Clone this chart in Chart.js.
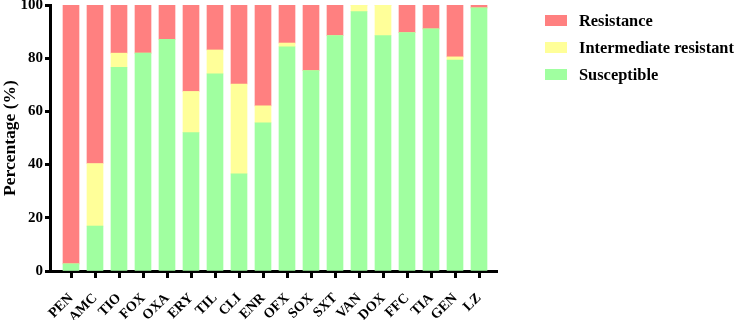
<!DOCTYPE html>
<html>
<head>
<meta charset="utf-8">
<script src="https://cdn.jsdelivr.net/npm/chart.js@4"></script>
<style>
  html, body { margin: 0; padding: 0; background: #fff; }
  #wrap { position: relative; width: 735px; height: 320px; }
  #legend { position: absolute; left: 545px; top: 7px; font-family: "Liberation Serif", "Times New Roman", serif; font-weight: bold; font-size: 16.4px; color: #000; }
  #legend div { height: 27px; display: flex; align-items: center; white-space: nowrap; }
  #legend span { display: inline-block; width: 22px; height: 11px; margin-right: 12px; }
</style>
</head>
<body>
<div id="wrap">
  <canvas id="chart" width="735" height="320"></canvas>
  <div id="legend"></div>
</div>
<script>
// antibiotic panel, percentage of isolates per category
const drugs = ["PEN", "AMC", "TIO", "FOX", "OXA", "ERY", "TIL", "CLI", "ENR",
  "OFX", "SOX", "SXT", "VAN", "DOX", "FFC", "TIA", "GEN", "LZ"];
const susceptible = [2.7, 16.9, 76.6, 81.9, 87.1, 52.0, 74.1, 36.5, 55.7,
  84.3, 75.3, 88.5, 97.5, 88.5, 89.6, 91.0, 79.3, 98.9];
const intermediate = [0, 23.5, 5.3, 0, 0, 15.5, 9.0, 33.8, 6.4,
  1.4, 0, 0, 2.5, 11.5, 0, 0, 1.2, 0];
const resistance = [97.3, 59.6, 18.1, 18.1, 12.9, 32.5, 16.9, 29.7, 37.9,
  14.3, 24.7, 11.5, 0, 0, 10.4, 9.0, 19.5, 1.1];
const yTicks = [0, 20, 40, 60, 80, 100];

const series = [
  { label: "Susceptible", data: susceptible, color: "#A0FFA0" },
  { label: "Intermediate resistant", data: intermediate, color: "#FFFF99" },
  { label: "Resistance", data: resistance, color: "#FF8080" },
];

const FONT = "'Liberation Serif', 'Times New Roman', serif";

new Chart(document.getElementById("chart"), {
  type: "bar",
  data: {
    datasets: series.map((s) => ({
      label: s.label,
      data: s.data.map((v, i) => ({ x: i, y: v })),
      backgroundColor: s.color,
      borderWidth: 0,
      barThickness: 16,
    })),
  },
  options: {
    responsive: false,
    animation: false,
    devicePixelRatio: 1,
    layout: { padding: { left: 0, top: 5, right: 238, bottom: 0 } },
    plugins: { legend: { display: false }, tooltip: { enabled: false } },
    scales: {
      x: {
        type: "linear",
        stacked: true,
        offset: false,
        min: -0.875,
        max: 17.75,
        afterBuildTicks: (axis) => { axis.ticks = drugs.map((_, i) => ({ value: i })); },
        afterFit: (s) => { s.height = 49; s.paddingLeft = 0; s.paddingRight = 0; },
        border: { color: "#000", width: 3 },
        grid: { display: true, offset: false, drawOnChartArea: false, tickLength: 7, tickColor: "#000", tickWidth: 3 },
        ticks: {
          autoSkip: false,
          minRotation: 45,
          maxRotation: 45,
          padding: 12,
          color: "#000",
          font: { family: FONT, size: 14, weight: "bold" },
          callback: (v) => drugs[v],
        },
      },
      y: {
        stacked: true,
        min: 0,
        max: 100,
        afterBuildTicks: (axis) => { axis.ticks = yTicks.map((v) => ({ value: v })); },
        // keep the plot flush with the top like the original figure
        afterFit: (s) => { s.width = 50; s.paddingTop = 0; s.paddingBottom = 0; },
        border: { color: "#000", width: 3 },
        grid: { display: true, drawOnChartArea: false, tickLength: 5, tickColor: "#000", tickWidth: 3 },
        ticks: { padding: 2, color: "#000", font: { family: FONT, size: 15, weight: "bold" } },
        title: {
          display: true,
          text: "Percentage (%)",
          color: "#000",
          padding: 0,
          font: { family: FONT, size: 17.5, weight: "bold" },
        },
      },
    },
  },
});

// legend, top to bottom as in the figure
const legend = document.getElementById("legend");
[...series].reverse().forEach((s) => {
  const row = document.createElement("div");
  row.innerHTML = `<span style="background:${s.color}"></span>${s.label}`;
  legend.appendChild(row);
});
</script>
</body>
</html>
